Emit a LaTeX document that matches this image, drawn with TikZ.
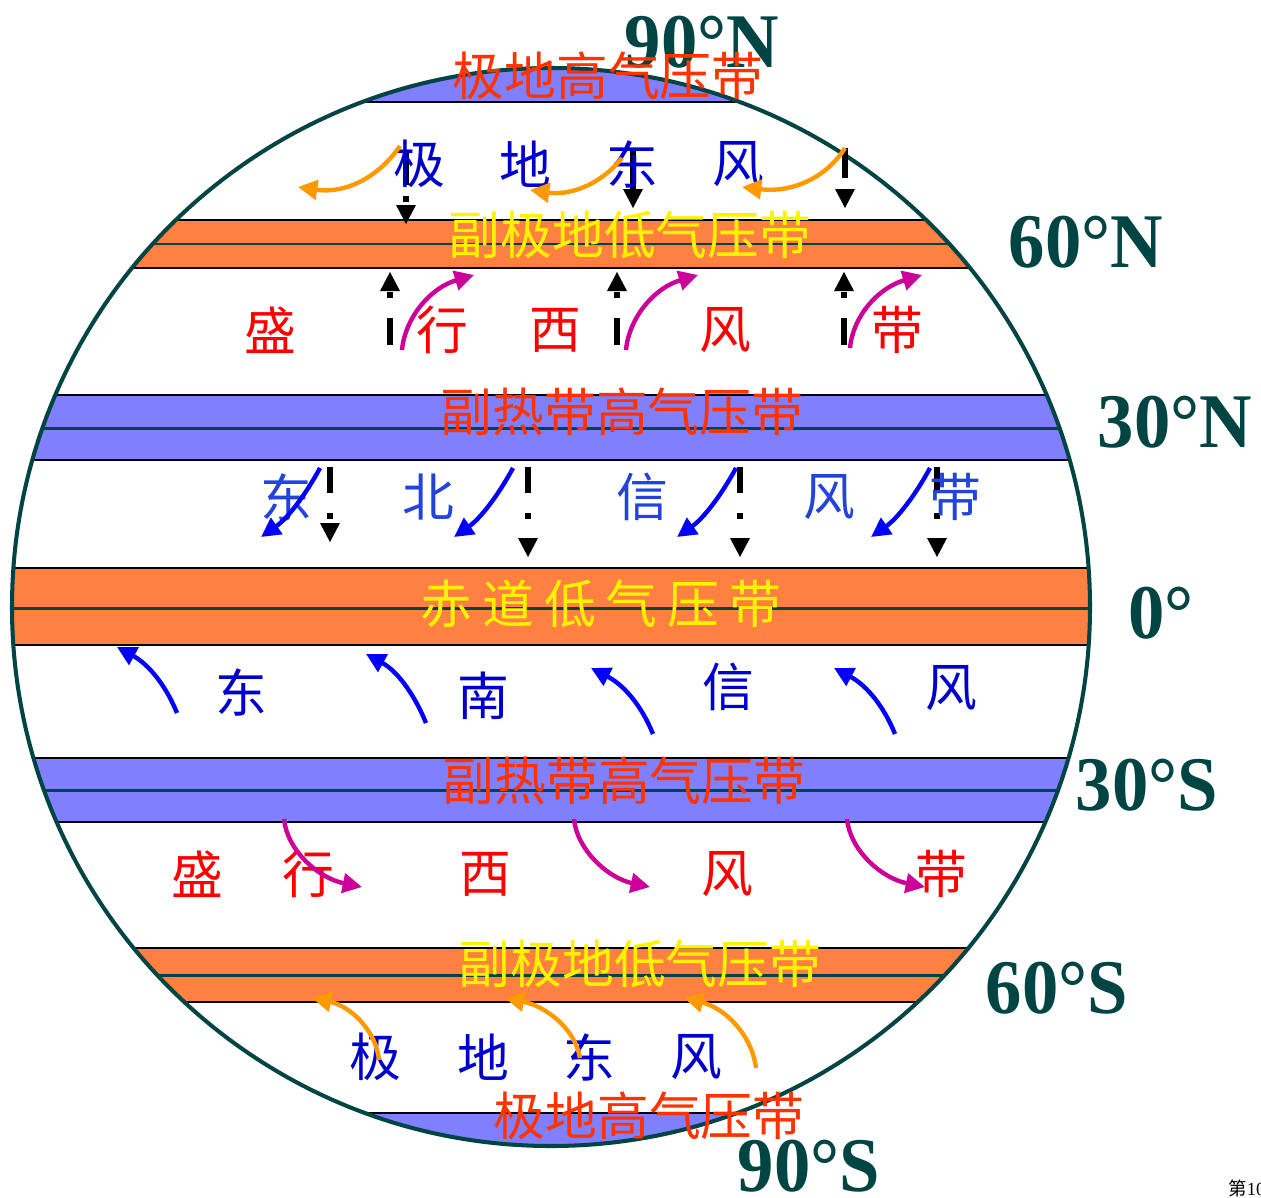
\documentclass[tikz,border=0pt]{standalone}
\usepackage{fontspec}
\setmainfont{Liberation Serif}
\newfontfamily\cjk{Noto Sans CJK SC}
\usetikzlibrary{arrows.meta}

\definecolor{rim}{HTML}{004444}
\definecolor{hiband}{HTML}{8080FF}
\definecolor{loband}{HTML}{FF8040}
\definecolor{redlab}{HTML}{FF3300}
\definecolor{westred}{HTML}{FF0000}
\definecolor{deepblue}{HTML}{0000CC}
\definecolor{tradeblue}{HTML}{2244DD}
\definecolor{windblue}{HTML}{0000FF}
\definecolor{polarorange}{HTML}{FF9900}
\definecolor{westmag}{HTML}{CC0099}

\tikzset{
  dhead/.pic={\fill[black] (-10,-19) -- (10,-19) -- (0,0) -- cycle;},
  uhead/.pic={\fill[black] (-10,19) -- (10,19) -- (0,0) -- cycle;},
}

\begin{document}
\begin{tikzpicture}[x=0.02cm,y=-0.02cm,
  cn/.style={font=\cjk\fontsize{29.5}{30}\selectfont, inner sep=0pt},
  lat/.style={font=\bfseries\fontsize{44}{44}\selectfont, text=rim, inner sep=0pt, xscale=0.94},
  bandedge/.style={black, line width=1.3pt},
  midline/.style={rim, line width=1.7pt},
  airbar/.style={black, line width=3pt},
  wind/.style={line width=2.5pt, -{Triangle[length=11pt,width=11pt]}},
]
\useasboundingbox (0,0) rectangle (1261,1197);

% pressure belts inside the globe
\begin{scope}
  \clip (551,607) circle [radius=539];
  \fill[hiband] (0,0) rectangle (1261,102);
  \fill[loband] (0,220) rectangle (1261,268);
  \fill[hiband] (0,395) rectangle (1261,460);
  \fill[loband] (0,568) rectangle (1261,645);
  \fill[hiband] (0,758) rectangle (1261,822);
  \fill[loband] (0,948) rectangle (1261,1002);
  \fill[hiband] (0,1113) rectangle (1261,1197);
  \foreach \yy in {102,220,268,395,460,568,645,758,822,948,1002,1113}
    \draw[bandedge] (0,\yy) -- (1261,\yy);
  \foreach \yy in {244,428,608,790,975}
    \draw[midline] (0,\yy) -- (1261,\yy);
\end{scope}
\draw[rim, line width=2.3pt] (551,607) circle [radius=539];

% latitude labels
\node[lat] (l90n) at (702,42) {90°N};
\node[lat] (l60n) at (1086,242) {60°N};
\node[lat] (l30n) at (1175,422) {30°N};
\node[lat] (l0)   at (1161,613) {0°};
\node[lat] (l30s) at (1147,785) {30°S};
\node[lat] (l60s) at (1057,988) {60°S};
\node[lat] (l90s) at (809,1166) {90°S};

% vertical air motion
\draw[airbar] (406,150) -- (406,185);
\draw[airbar] (406,196) -- (406,202);
\pic at (406,224) {dhead};
\draw[airbar] (633,150) -- (633,189);
\pic at (633,208) {dhead};
\draw[airbar] (845,148) -- (845,178);
\pic at (845,208) {dhead};
\foreach \xx in {390,617,844}{
  \draw[airbar] (\xx,318) -- (\xx,345);
  \draw[airbar] (\xx,292) -- (\xx,298);
  \pic at (\xx,272) {uhead};
}
\draw[airbar] (330,467) -- (330,493);
\draw[airbar] (330,513) -- (330,519);
\pic at (330,542) {dhead};
\foreach \xx in {528,740,937}{
  \draw[airbar] (\xx,467) -- (\xx,493);
  \draw[airbar] (\xx,513) -- (\xx,519);
  \pic at (\xx,557) {dhead};
}

% belt names
\node[cn, text=redlab] (nph) at (608,76) {极地高气压带};
\node[cn, text=deepblue] (npe1) at (419,164) {极};
\node[cn, text=deepblue] (npe2) at (525,164) {地};
\node[cn, text=deepblue] (npe3) at (632,164) {东};
\node[cn, text=deepblue] (npe4) at (738,164) {风};
\node[cn, text=yellow] (nspl) at (630,235) {副极地低气压带};
\node[cn, text=westred] (nw1) at (270,330) {盛};
\node[cn, text=westred] (nw2) at (442,330) {行};
\node[cn, text=westred] (nw3) at (555,330) {西};
\node[cn, text=westred] (nw4) at (725,330) {风};
\node[cn, text=westred] (nw5) at (897,330) {带};
\node[cn, text=redlab] (nsth) at (622,412) {副热带高气压带};
\node[cn, text=tradeblue] (ne1) at (286,497) {东};
\node[cn, text=tradeblue] (ne2) at (428,497) {北};
\node[cn, text=tradeblue] (ne3) at (642,497) {信};
\node[cn, text=tradeblue] (ne4) at (829,497) {风};
\node[cn, text=tradeblue] (ne5) at (955,497) {带};
\node[cn, text=yellow] (eql) at (601,604) {赤\kern5.6pt 道\kern5.6pt 低\kern5.6pt 气\kern5.6pt 压\kern5.6pt 带};
\node[cn, text=deepblue] (se1) at (241,692) {东};
\node[cn, text=deepblue] (se2) at (483,696) {南};
\node[cn, text=deepblue] (se3) at (728,687) {信};
\node[cn, text=deepblue] (se4) at (951,688) {风};
\node[cn, text=redlab] (ssth) at (624,781) {副热带高气压带};
\node[cn, text=westred] (sw1) at (197,874) {盛};
\node[cn, text=westred] (sw2) at (308,874) {行};
\node[cn, text=westred] (sw3) at (485,874) {西};
\node[cn, text=westred] (sw4) at (727,874) {风};
\node[cn, text=westred] (sw5) at (941,874) {带};
\node[cn, text=yellow] (sspl) at (640,964) {副极地低气压带};
\node[cn, text=deepblue] (spe1) at (375,1057) {极};
\node[cn, text=deepblue] (spe2) at (483,1057) {地};
\node[cn, text=deepblue] (spe3) at (589,1057) {东};
\node[cn, text=deepblue] (spe4) at (696,1057) {风};
\node[cn, text=redlab] (sph) at (649,1116) {极地高气压带};

% surface winds
\draw[wind, polarorange] (400,146) coordinate (ne1a) .. controls (378,178) and (345,194) .. (298,187) coordinate (ne1b);
\draw[wind, polarorange] (622,158) coordinate (ne2a) .. controls (602,183) and (572,196) .. (530,190) coordinate (ne2b);
\draw[wind, polarorange] (845,148) coordinate (ne3a) .. controls (826,178) and (792,193) .. (742,187) coordinate (ne3b);

\draw[wind, westmag] (402,350) coordinate (nw1a) .. controls (405,318) and (430,288) .. (474,275) coordinate (nw1b);
\draw[wind, westmag] (626,350) coordinate (nw2a) .. controls (629,318) and (654,288) .. (698,275) coordinate (nw2b);
\draw[wind, westmag] (850,348) coordinate (nw3a) .. controls (853,316) and (878,288) .. (922,275) coordinate (nw3b);

\draw[wind, windblue] (320,468) coordinate (nt1a) .. controls (306,494) and (288,518) .. (261,537) coordinate (nt1b);
\draw[wind, windblue] (513,468) coordinate (nt2a) .. controls (499,494) and (481,518) .. (454,537) coordinate (nt2b);
\draw[wind, windblue] (736,468) coordinate (nt3a) .. controls (722,494) and (704,518) .. (677,537) coordinate (nt3b);
\draw[wind, windblue] (930,468) coordinate (nt4a) .. controls (916,494) and (898,518) .. (871,537) coordinate (nt4b);

\draw[wind, windblue] (177,713) coordinate (st1a) .. controls (167,688) and (150,665) .. (117,647) coordinate (st1b);
\draw[wind, windblue] (426,723) coordinate (st2a) .. controls (416,698) and (399,672) .. (366,654) coordinate (st2b);
\draw[wind, windblue] (653,734) coordinate (st3a) .. controls (643,709) and (626,686) .. (591,668) coordinate (st3b);
\draw[wind, windblue] (895,734) coordinate (st4a) .. controls (885,709) and (868,686) .. (834,668) coordinate (st4b);

\draw[wind, westmag] (284,819) coordinate (sw1a) .. controls (287,850) and (318,878) .. (362,887) coordinate (sw1b);
\draw[wind, westmag] (574,819) coordinate (sw2a) .. controls (577,850) and (608,878) .. (650,887) coordinate (sw2b);
\draw[wind, westmag] (847,819) coordinate (sw3a) .. controls (850,850) and (881,878) .. (925,887) coordinate (sw3b);

\draw[wind, polarorange] (379,1060) coordinate (se1a) .. controls (376,1030) and (350,1006) .. (312,998) coordinate (se1b);
\draw[wind, polarorange] (580,1058) coordinate (se2a) .. controls (575,1028) and (545,1006) .. (505,998) coordinate (se2b);
\draw[wind, polarorange] (756,1068) coordinate (se3a) .. controls (752,1035) and (725,1008) .. (684,998) coordinate (se3b);

% page number
\node[anchor=west, inner sep=0pt, font=\fontsize{10.5}{11}\selectfont] (pg) at (1228,1188) {{\cjk 第}10};
\end{tikzpicture}
\end{document}
